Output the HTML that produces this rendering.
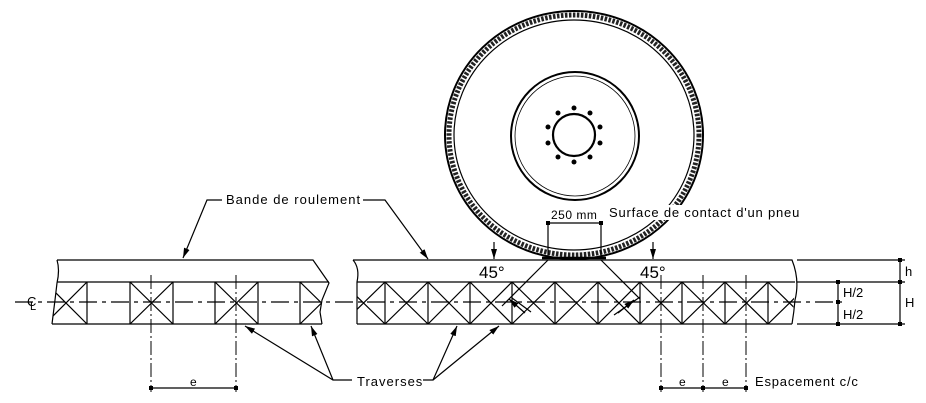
<!DOCTYPE html>
<html><head><meta charset="utf-8"><style>
html,body{margin:0;padding:0;background:#fff;}
svg{display:block;}
text{font-family:"Liberation Sans",sans-serif;fill:#000;}
</style></head><body>
<svg width="926" height="403" viewBox="0 0 926 403" xmlns="http://www.w3.org/2000/svg">
<defs>
<marker id="a" viewBox="0 0 10 6" refX="10" refY="3" markerWidth="10" markerHeight="6" markerUnits="userSpaceOnUse" orient="auto"><path d="M0,0L10,3L0,6z" fill="#000"/></marker>
<marker id="t" viewBox="0 0 4 4" refX="2" refY="2" markerWidth="4" markerHeight="4" markerUnits="userSpaceOnUse"><rect width="4" height="4" fill="#000"/></marker>
<clipPath id="cl"><path d="M57,282 L329,282 L322,300 L320,312 L322,324 L52,324 L55,300 Z"/></clipPath>
<clipPath id="cr"><path d="M357,282 L795,282 Q794,302 792,324 L357,324 Z"/></clipPath>
</defs>
<g stroke="#000" fill="none" stroke-width="1.2">
<!-- tire -->
<ellipse cx="574" cy="135" rx="129" ry="124" stroke-width="2"/>
<ellipse cx="574" cy="135" rx="120" ry="115" stroke-width="1.2"/>
<ellipse cx="574" cy="135" rx="125" ry="120" stroke-width="5" stroke-dasharray="2.5 1.5" stroke="#222"/>
<line x1="542" y1="258" x2="606" y2="258" stroke-width="2.5"/>
<circle cx="575" cy="136" r="64" stroke-width="2"/>
<circle cx="575" cy="136" r="60" stroke-width="0.8"/>
<circle cx="574" cy="135" r="21" stroke-width="2.2"/>
<g fill="#000" stroke="none">
<circle cx="574" cy="108" r="2.5"/><circle cx="590" cy="113" r="2.5"/><circle cx="600" cy="127" r="2.5"/><circle cx="600" cy="143" r="2.5"/><circle cx="590" cy="157" r="2.5"/><circle cx="574" cy="162" r="2.5"/><circle cx="558" cy="157" r="2.5"/><circle cx="548" cy="143" r="2.5"/><circle cx="548" cy="127" r="2.5"/><circle cx="558" cy="113" r="2.5"/>
</g>
<!-- left segment -->
<path d="M57,260 L313,260 L329,283 L322,300 L320,312 L322,324"/>
<path d="M57,260 Q60,270 57,283 L55,300 L52,324"/>
<line x1="57" y1="282" x2="329" y2="282"/>
<line x1="52" y1="324" x2="322" y2="324"/>
<g clip-path="url(#cl)">
<path d="M87,282V324M130,282V324M173,282V324M215,282V324M258,282V324M300,282V324"/>
<path d="M45,282L87,324M45,324L87,282M130,282L173,324M130,324L173,282M215,282L258,324M215,324L258,282M300,282L343,324M300,324L343,282"/>
</g>
<!-- right segment -->
<path d="M353,260 L792,260 Q800,280 795,300 Q794,312 792,324"/>
<path d="M353,260 Q360,268 357,282 L357,324"/>
<line x1="357" y1="282" x2="795" y2="282"/>
<line x1="357" y1="324" x2="792" y2="324"/>
<g clip-path="url(#cr)">
<path d="M385,282V324M428,282V324M470,282V324M512,282V324M555,282V324M598,282V324M640,282V324M682,282V324M725,282V324M768,282V324"/>
<path d="M342,282L385,324M342,324L385,282M385,282L428,324M385,324L428,282M428,282L470,324M428,324L470,282M470,282L512,324M470,324L512,282M512,282L555,324M512,324L555,282M555,282L598,324M555,324L598,282M598,282L640,324M598,324L640,282M640,282L682,324M640,324L682,282M682,282L725,324M682,324L725,282M725,282L768,324M725,324L768,282M768,282L811,324M768,324L811,282"/>
</g>
<!-- centerline -->
<line x1="15" y1="302" x2="842" y2="302" stroke-dasharray="18 5 4 5"/>
<!-- extension lines right -->
<line x1="797" y1="260" x2="905" y2="260"/>
<line x1="797" y1="282" x2="905" y2="282"/>
<line x1="797" y1="324" x2="905" y2="324"/>
<polyline points="900,260 900,282 900,324" marker-start="url(#t)" marker-mid="url(#t)" marker-end="url(#t)"/>
<polyline points="838,282 838,302 838,324" marker-start="url(#t)" marker-mid="url(#t)" marker-end="url(#t)"/>
<!-- dash-dot verticals -->
<g stroke-dasharray="14 3 2 3" stroke-width="1">
<line x1="151" y1="275" x2="151" y2="392"/><line x1="236" y1="275" x2="236" y2="392"/>
<line x1="661" y1="275" x2="661" y2="392"/><line x1="703" y1="275" x2="703" y2="392"/><line x1="746" y1="275" x2="746" y2="392"/>
</g>
<line x1="151" y1="388" x2="236" y2="388" marker-start="url(#t)" marker-end="url(#t)"/>
<line x1="661" y1="388" x2="703" y2="388" marker-start="url(#t)" marker-end="url(#t)"/>
<line x1="703" y1="388" x2="746" y2="388" marker-start="url(#t)" marker-end="url(#t)"/>
<!-- contact -->
<line x1="548" y1="222" x2="548" y2="258"/><line x1="601" y1="222" x2="601" y2="258"/>
<line x1="548" y1="223" x2="601" y2="223" marker-start="url(#t)" marker-end="url(#t)"/>
<line x1="548" y1="260" x2="502" y2="306"/>
<line x1="601" y1="260" x2="640" y2="299"/>
<line x1="494" y1="242" x2="494" y2="259" marker-end="url(#a)"/>
<line x1="653" y1="242" x2="653" y2="259" marker-end="url(#a)"/>
<line x1="525" y1="313" x2="509" y2="299" marker-end="url(#a)"/><line x1="512" y1="298" x2="531" y2="312"/>
<line x1="618" y1="313" x2="634" y2="300" marker-end="url(#a)"/><line x1="614" y1="315" x2="640" y2="297"/>
<!-- leaders -->
<polyline points="222,200 207,200 183,258" marker-end="url(#a)"/>
<polyline points="363,200 385,200 428,259" marker-end="url(#a)"/>
<polyline points="352,380 333,380 245,326" marker-end="url(#a)"/>
<line x1="333" y1="380" x2="311" y2="326" marker-end="url(#a)"/>
<polyline points="423,380 433,380 457,326" marker-end="url(#a)"/>
<line x1="433" y1="380" x2="499" y2="326" marker-end="url(#a)"/>
</g>
<rect x="607" y="205" width="200" height="15" fill="#fff"/>
<rect x="549" y="208" width="50" height="12" fill="#fff"/>
<text x="226" y="204" font-size="13" letter-spacing="1">Bande de roulement</text>
<text x="357" y="386" font-size="13" letter-spacing="1">Traverses</text>
<text x="551" y="219" font-size="12" letter-spacing="0.5">250 mm</text>
<text x="609" y="217" font-size="13" letter-spacing="0.8">Surface de contact d'un pneu</text>
<text x="479" y="278" font-size="17">45°</text>
<text x="640" y="278" font-size="17">45°</text>
<text x="190" y="386" font-size="12">e</text>
<text x="679" y="386" font-size="12">e</text>
<text x="722" y="386" font-size="12">e</text>
<text x="755" y="386" font-size="13" letter-spacing="0.8">Espacement c/c</text>
<text x="905" y="276" font-size="13">h</text>
<text x="905" y="307" font-size="13">H</text>
<text x="843" y="297" font-size="13">H/2</text>
<text x="843" y="319" font-size="13">H/2</text>
<text x="27" y="306" font-size="13">C</text>
<text x="30" y="310" font-size="11">L</text>
</svg>
</body></html>
